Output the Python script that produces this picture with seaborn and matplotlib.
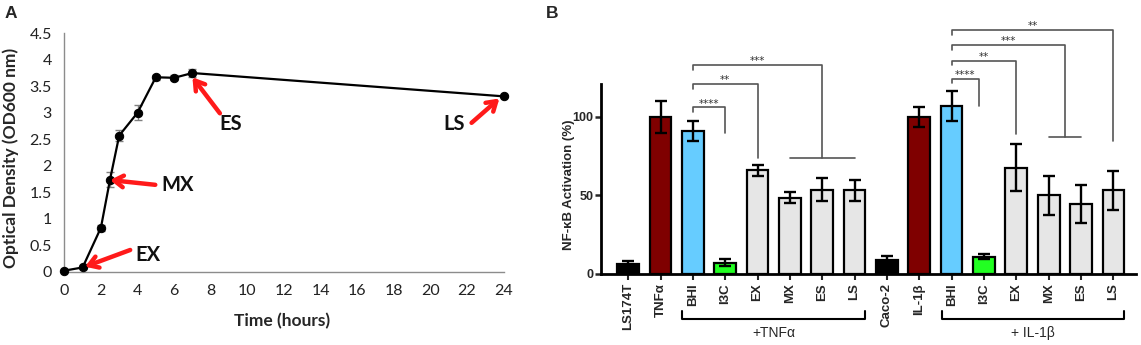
import numpy as np
import pandas as pd
import matplotlib
matplotlib.use("Agg")
import matplotlib.pyplot as plt
import seaborn as sns
from matplotlib.transforms import blended_transform_factory

# ---------------- data: panel A (growth curve) ----------------
time_h = [0, 1, 2, 2.5, 3, 4, 5, 6, 7, 24]
od600 = [0.02, 0.08, 0.83, 1.74, 2.57, 3.0, 3.67, 3.66, 3.75, 3.31]
od600_err = [0.01, 0.02, 0.06, 0.14, 0.10, 0.14, 0.05, 0.05, 0.07, 0.02]
a_xticks = [0, 2, 4, 6, 8, 10, 12, 14, 16, 18, 20, 22, 24]
a_yticks = [0, 0.5, 1, 1.5, 2, 2.5, 3, 3.5, 4, 4.5]
a_yticklabels = ["0", "0.5", "1", "1.5", "2", "2.5", "3", "3.5", "4", "4.5"]
phase_names = ["EX", "MX", "ES", "LS"]

# ---------------- data: panel B (NF-kB activation) ----------------
b_labels = ["LS174T", "TNFα", "BHI", "I3C", "EX", "MX", "ES", "LS",
            "Caco-2", "IL-1β", "BHI", "I3C", "EX", "MX", "ES", "LS"]
b_values = [6, 100, 91, 7, 66, 48.5, 53.5, 53,
            8.5, 100, 107, 10.7, 67.5, 50, 44.5, 53]
b_errors = [2, 10, 6.3, 2.3, 3.5, 3.3, 7.5, 7,
            2.5, 6.5, 9.5, 1.7, 15, 12.5, 12, 12.5]
b_yticks = [0, 50, 100]
group_labels = ["+TNFα", "+ IL-1β"]
sig_labels_tnf = ["****", "**", "***"]
sig_labels_il = ["****", "**", "***", "**"]

# ---------------- styles ----------------
sns.set_theme(style="white")
plt.rcParams["font.family"] = ["Liberation Sans", "DejaVu Sans"]

BLACK = "#000000"
DRED = "#7f0000"
LBLUE = "#66ccff"
GREEN = "#22ff22"
LGRAY = "#e6e6e6"
bar_colors = [BLACK, DRED, LBLUE, GREEN, LGRAY, LGRAY, LGRAY, LGRAY,
              BLACK, DRED, LBLUE, GREEN, LGRAY, LGRAY, LGRAY, LGRAY]

W, H = 1141, 345
fig = plt.figure(figsize=(W / 100, H / 100), dpi=100)

# ================= Panel A =================
axA = fig.add_axes([64.3 / W, (H - 271.7) / H, (503.6 - 64.3) / W, (271.7 - 33.3) / H])
dfA = pd.DataFrame({"t": time_h, "od": od600})
axA.errorbar(time_h, od600, yerr=od600_err, fmt="none", ecolor="#808080",
             elinewidth=1.0, capsize=3, capthick=1.0, zorder=2)
sns.lineplot(data=dfA, x="t", y="od", ax=axA, color="black", lw=1.6,
             marker="o", markersize=6, markeredgecolor="black", zorder=3,
             estimator=None, sort=True)
for ln in axA.lines:
    ln.set_clip_on(False)
axA.set_xlim(0, 24)
axA.set_ylim(0, 4.5)
axA.set_xticks(a_xticks)
axA.set_yticks(a_yticks)
axA.set_yticklabels(a_yticklabels)
fontA = ["Lato", "DejaVu Sans"]
axA.tick_params(axis="both", length=0, pad=9, labelsize=11.5, labelcolor="#222222")
for lab in axA.get_xticklabels() + axA.get_yticklabels():
    lab.set_family(fontA)
for s in ["top", "right"]:
    axA.spines[s].set_visible(False)
for s in ["left", "bottom"]:
    axA.spines[s].set_color("#8c8c8c")
    axA.spines[s].set_linewidth(1.0)
axA.set_xlabel("Time (hours)", fontsize=12.5, fontweight="bold", family=fontA)
axA.set_ylabel("Optical Density (OD600 nm)", fontsize=12.5, fontweight="bold", family=fontA)
axA.xaxis.set_label_coords(0.4956, -0.172)
axA.yaxis.set_label_coords(-0.103, 0.477)

arrow_tails = [(3.6, 0.41), (4.97, 1.64), (8.5, 2.99), (22.25, 2.81)]
arrow_heads = [(1.13, 0.094), (2.5, 1.73), (7.0, 3.67), (23.77, 3.27)]
text_pos = [(4.57, 0.31), (6.2, 1.64), (9.1, 2.78), (21.3, 2.78)]
for name, tail, head, tp in zip(phase_names, arrow_tails, arrow_heads, text_pos):
    axA.annotate("", xy=head, xytext=tail,
                 arrowprops=dict(arrowstyle="->,head_length=0.55,head_width=0.35",
                                 color="#ff1a1a", lw=3.2, shrinkA=0, shrinkB=0),
                 annotation_clip=False, zorder=4)
    axA.text(tp[0], tp[1], name, fontsize=14.5, fontweight="bold", family=fontA,
             ha="center", va="center", color="#111111")

fig.text(10.7 / W, 1 - 13.3 / H, "A", fontsize=12.5, fontweight="bold",
         ha="center", va="center")

# ================= Panel B =================
axB = fig.add_axes([601 / W, (H - 273.5) / H, 535 / W, 189.5 / H])
ids = [f"c{i}" for i in range(len(b_labels))]
dfB = pd.DataFrame({"cond": ids, "val": b_values})
sns.barplot(data=dfB, x="cond", y="val", hue="cond", order=ids, hue_order=ids,
            palette=bar_colors, legend=False, errorbar=None, saturation=1,
            width=0.67, edgecolor="black", linewidth=1.6, ax=axB, zorder=2)
axB.errorbar(np.arange(len(b_values)), b_values, yerr=b_errors, fmt="none",
             ecolor="black", elinewidth=1.7, capsize=4.5, capthick=1.7, zorder=3)
axB.set_xlim(-0.84, 15.7)
axB.set_ylim(0, 121)
axB.set_yticks(b_yticks)
axB.set_yticklabels([str(v) for v in b_yticks])
axB.set_xticks(np.arange(len(b_labels)))
axB.set_xticklabels(b_labels, rotation=90)
axB.tick_params(axis="y", length=4, width=1.8, pad=1.5, labelsize=9, direction="out", left=True)
axB.tick_params(axis="x", length=4, width=1.5, pad=3, labelsize=9.5, direction="out", bottom=True)
for lab in axB.get_xticklabels() + axB.get_yticklabels():
    lab.set_fontweight("bold")
for s in ["top", "right"]:
    axB.spines[s].set_visible(False)
for s in ["left", "bottom"]:
    axB.spines[s].set_color("black")
    axB.spines[s].set_linewidth(2.0)
axB.set_xlabel("")
axB.set_ylabel("NF-κB Activation (%)", fontsize=9.5, fontweight="bold")
axB.yaxis.set_label_coords(-0.049, 0.47)

# significance brackets (data coords, drawn outside the axes)
BR = "#555555"
def bracket(x0, x1, top, right_end, label, tbar=None):
    axB.plot([x0, x0, x1, x1], [top - 3, top, top, right_end], color=BR,
             lw=1.2, clip_on=False, zorder=4)
    if tbar is not None:
        axB.plot(tbar, [right_end, right_end], color=BR, lw=1.2, clip_on=False, zorder=4)
    axB.text((x0 + x1) / 2, top + 0.6, label, ha="center", va="baseline",
             fontsize=7.5, color="#333333", family="DejaVu Sans")

bracket(2, 3, 106, 89.4, sig_labels_tnf[0])
bracket(2, 4, 120.8, 73.5, sig_labels_tnf[1])
bracket(2, 6, 132.9, 73.5, sig_labels_tnf[2], tbar=(5, 7))
bracket(10, 10.85, 124.4, 107, sig_labels_il[0])
bracket(10, 12, 136, 89, sig_labels_il[1])
bracket(10, 13.5, 145.8, 87.3, sig_labels_il[2], tbar=(13, 14))
bracket(10, 15, 155.5, 84.8, sig_labels_il[3])

# group brackets below labels
trans = blended_transform_factory(axB.transData, fig.transFigure)
yb_low = 1 - 319.3 / H
yb_high = 1 - 310.7 / H
for (x0, x1), glab in zip([(1.66, 7.33), (9.69, 15.33)], group_labels):
    axB.plot([x0, x0, x1, x1], [yb_high, yb_low, yb_low, yb_high], color="black",
             lw=1.5, transform=trans, clip_on=False)
    axB.text((x0 + x1) / 2, 1 - 333 / H, glab, transform=trans, ha="center",
             va="center", fontsize=10)

fig.text(552 / W, 1 - 13 / H, "B", fontsize=12.5, fontweight="bold",
         ha="center", va="center")

fig.savefig("out.png", dpi=100)
